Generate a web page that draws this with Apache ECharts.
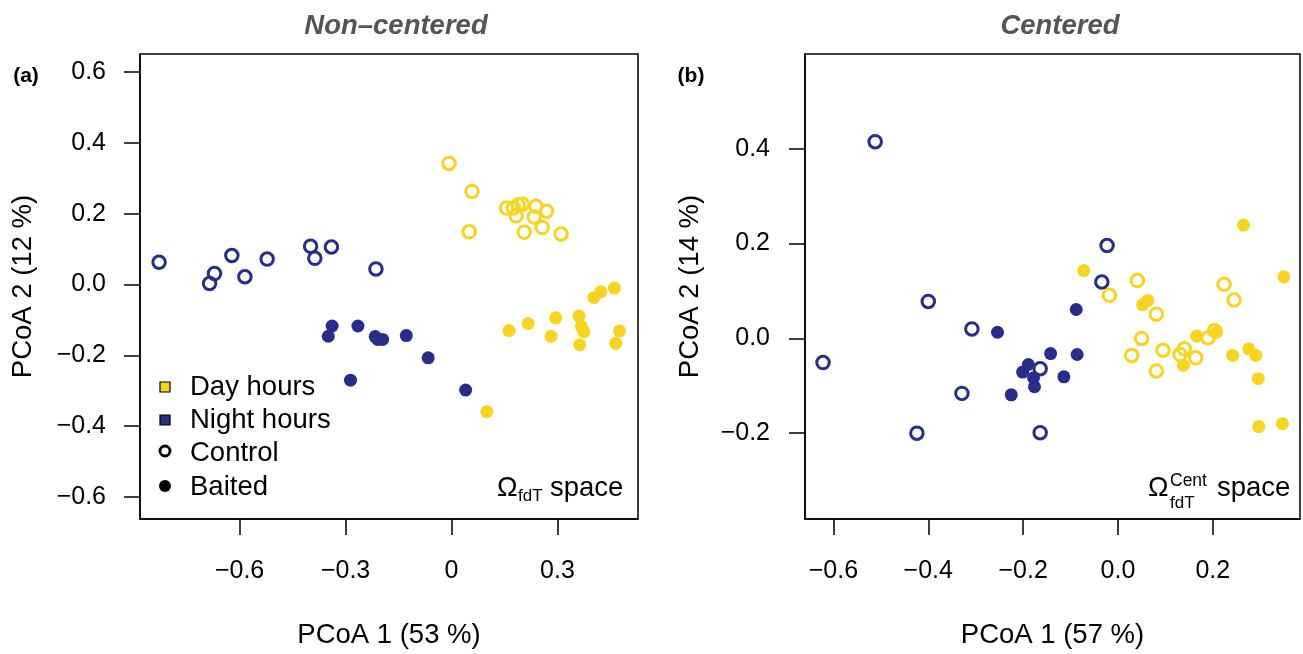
<!DOCTYPE html>
<html><head><meta charset="utf-8">
<script src="https://cdn.jsdelivr.net/npm/echarts@6/dist/echarts.min.js"></script>
<style>html,body{margin:0;padding:0;background:#fff}#c{width:1303px;height:654px}</style>
</head><body><div id="c"></div>
<script>
const FONT = '"Liberation Sans", Arial, Helvetica, sans-serif';
const BLUE = '#282d8b';
const YELLOW = '#f9d41f';

// ---- Panel (a) Non-centered : [PCoA1, PCoA2]
const aNightControl = [[-0.828,0.063],[-0.671,0.031],[-0.685,0.003],[-0.622,0.082],[-0.585,0.022],[-0.522,0.072],[-0.399,0.108],[-0.387,0.074],[-0.340,0.106],[-0.214,0.044]];
const aNightBaited = [[-0.338,-0.117],[-0.349,-0.146],[-0.265,-0.117],[-0.216,-0.147],[-0.209,-0.155],[-0.195,-0.155],[-0.128,-0.144],[-0.066,-0.207],[-0.286,-0.270],[0.040,-0.298]];
const aDayControl = [[-0.007,0.342],[0.058,0.263],[0.050,0.149],[0.156,0.216],[0.175,0.216],[0.189,0.225],[0.201,0.227],[0.183,0.194],[0.239,0.221],[0.269,0.207],[0.234,0.191],[0.206,0.148],[0.257,0.161],[0.310,0.143]];
const aDayBaited = [[0.461,-0.010],[0.423,-0.020],[0.403,-0.037],[0.295,-0.094],[0.361,-0.089],[0.217,-0.110],[0.163,-0.130],[0.368,-0.119],[0.375,-0.134],[0.282,-0.146],[0.476,-0.131],[0.363,-0.170],[0.465,-0.166],[0.100,-0.359]];

// ---- Panel (b) Centered
const bNightControl = [[-0.512,0.415],[-0.622,-0.051],[-0.400,0.078],[-0.308,0.020],[-0.329,-0.116],[-0.424,-0.200],[-0.164,-0.199],[-0.164,-0.064],[-0.023,0.196],[-0.034,0.119]];
const bNightBaited = [[-0.254,0.013],[-0.088,0.061],[-0.086,-0.034],[-0.142,-0.032],[-0.189,-0.055],[-0.201,-0.071],[-0.178,-0.083],[-0.176,-0.102],[-0.114,-0.081],[-0.225,-0.119]];
const bDayControl = [[-0.018,0.091],[0.041,0.122],[0.081,0.051],[0.050,0.000],[0.029,-0.036],[0.095,-0.025],[0.081,-0.069],[0.140,-0.022],[0.131,-0.034],[0.164,-0.041],[0.190,0.001],[0.204,0.016],[0.224,0.114],[0.245,0.081]];
const bDayBaited = [[-0.072,0.143],[0.265,0.239],[0.350,0.130],[0.063,0.080],[0.052,0.071],[0.166,0.005],[0.208,0.013],[0.138,-0.057],[0.242,-0.036],[0.276,-0.022],[0.291,-0.036],[0.296,-0.085],[0.297,-0.186],[0.347,-0.180]];

// ---- Tick values and labels
const aXTicks = [-0.6,-0.3,0,0.3];
const aXLabels = ['\u22120.6','\u22120.3','0','0.3'];
const aYTicks = [0.6,0.4,0.2,0,-0.2,-0.4,-0.6];
const aYLabels = ['0.6','0.4','0.2','0.0','\u22120.2','\u22120.4','\u22120.6'];
const bXTicks = [-0.6,-0.4,-0.2,0,0.2];
const bXLabels = ['\u22120.6','\u22120.4','\u22120.2','0.0','0.2'];
const bYTicks = [0.4,0.2,0,-0.2];
const bYLabels = ['0.4','0.2','0.0','\u22120.2'];

const chart = echarts.init(document.getElementById('c'), null, {renderer:'canvas'});

function lab(ticks, labels){
  return v => { const i = ticks.findIndex(t => Math.abs(t - v) < 1e-9); return i >= 0 ? labels[i] : ''; };
}
function axisCfg(gridIndex, min, max, ticks, labels, name, gap, margin){
  return {
    type:'value', gridIndex, min, max, name,
    nameLocation:'middle', nameGap:gap,
    nameTextStyle:{fontFamily:FONT, fontSize:27.5, color:'#000'},
    splitLine:{show:false},
    axisLine:{show:true, onZero:false, lineStyle:{color:'#000', width:1.5}},
    axisTick:{show:true, inside:false, length:16, customValues:ticks, lineStyle:{color:'#000', width:1.5}},
    axisLabel:{customValues:ticks, formatter:lab(ticks, labels), margin, fontSize:25, fontFamily:FONT, color:'#000'}
  };
}
function openS(data, color, xi){
  return {type:'scatter', xAxisIndex:xi, yAxisIndex:xi, data, symbol:'circle', symbolSize:12.5,
    itemStyle:{color:'rgba(255,255,255,0)', borderColor:color, borderWidth:3, opacity:1}, silent:true, z:3};
}
function fillS(data, color, xi){
  return {type:'scatter', xAxisIndex:xi, yAxisIndex:xi, data, symbol:'circle', symbolSize:13,
    itemStyle:{color, borderWidth:0, opacity:1}, silent:true, z:3};
}

const legendRows = [
  {y:387, text:'Day hours'},
  {y:420, text:'Night hours'},
  {y:453, text:'Control'},
  {y:487, text:'Baited'}
];
const txt = (x, y, s, size, extra) => Object.assign({type:'text', x, y, silent:true,
  style:Object.assign({text:s, fontFamily:FONT, fontSize:size, fill:'#000', textVerticalAlign:'middle', textAlign:'left'}, extra||{})});

const graphics = [
  txt(26, 76, '(a)', 21, {fontWeight:'bold', textAlign:'center'}),
  txt(691, 76, '(b)', 21, {fontWeight:'bold', textAlign:'center'}),
  // legend symbols
  {type:'rect', shape:{x:160, y:382, width:10, height:10}, style:{fill:YELLOW, stroke:'#000', lineWidth:1.2}},
  {type:'rect', shape:{x:160, y:415, width:10, height:10}, style:{fill:BLUE, stroke:'#000', lineWidth:1.2}},
  {type:'circle', shape:{cx:165, cy:451, r:5}, style:{fill:'none', stroke:'#000', lineWidth:2.8}},
  {type:'circle', shape:{cx:165, cy:486, r:6}, style:{fill:'#000'}},
  ...legendRows.map(r => txt(190, r.y, r.text, 27.5)),
  // annotations
  txt(497, 488, '\u03A9', 27.5),
  txt(518, 496, 'fdT', 17),
  txt(550, 488, 'space', 27.5),
  txt(1148, 488, '\u03A9', 27.5),
  txt(1170, 481, 'Cent', 17.5),
  txt(1170, 503, 'fdT', 17),
  txt(1217, 488, 'space', 27.5)
];

const option = {
  animation:false,
  backgroundColor:'#fff',
  title:[
    {text:'Non\u2013centered', left:391, top:8, textAlign:'center',
      textStyle:{fontFamily:FONT, fontSize:27.5, fontWeight:'bold', fontStyle:'italic', color:'#555'}},
    {text:'Centered', left:1055, top:8, textAlign:'center',
      textStyle:{fontFamily:FONT, fontSize:27.5, fontWeight:'bold', fontStyle:'italic', color:'#555'}}
  ],
  grid:[
    {left:140, top:54, width:498, height:466.5, show:true, borderColor:'#000', borderWidth:1.5, containLabel:false},
    {left:805, top:54, width:495, height:466.5, show:true, borderColor:'#000', borderWidth:1.5, containLabel:false}
  ],
  xAxis:[
    axisCfg(0, -0.882, 0.528, aXTicks, aXLabels, 'PCoA 1 (53 %)', 102, 40),
    axisCfg(1, -0.66, 0.384, bXTicks, bXLabels, 'PCoA 1 (57 %)', 102, 40)
  ],
  yAxis:[
    Object.assign(axisCfg(0, -0.662, 0.651, aYTicks, aYLabels, 'PCoA 2 (12 %)', 103, 34), {nameRotate:90}),
    Object.assign(axisCfg(1, -0.381, 0.6, bYTicks, bYLabels, 'PCoA 2 (14 %)', 101, 35), {nameRotate:90})
  ],
  series:[
    openS(aNightControl, BLUE, 0), fillS(aNightBaited, BLUE, 0),
    openS(aDayControl, YELLOW, 0), fillS(aDayBaited, YELLOW, 0),
    openS(bNightControl, BLUE, 1), fillS(bNightBaited, BLUE, 1),
    openS(bDayControl, YELLOW, 1), fillS(bDayBaited, YELLOW, 1)
  ],
  graphic: graphics
};
chart.setOption(option);
</script></body></html>
